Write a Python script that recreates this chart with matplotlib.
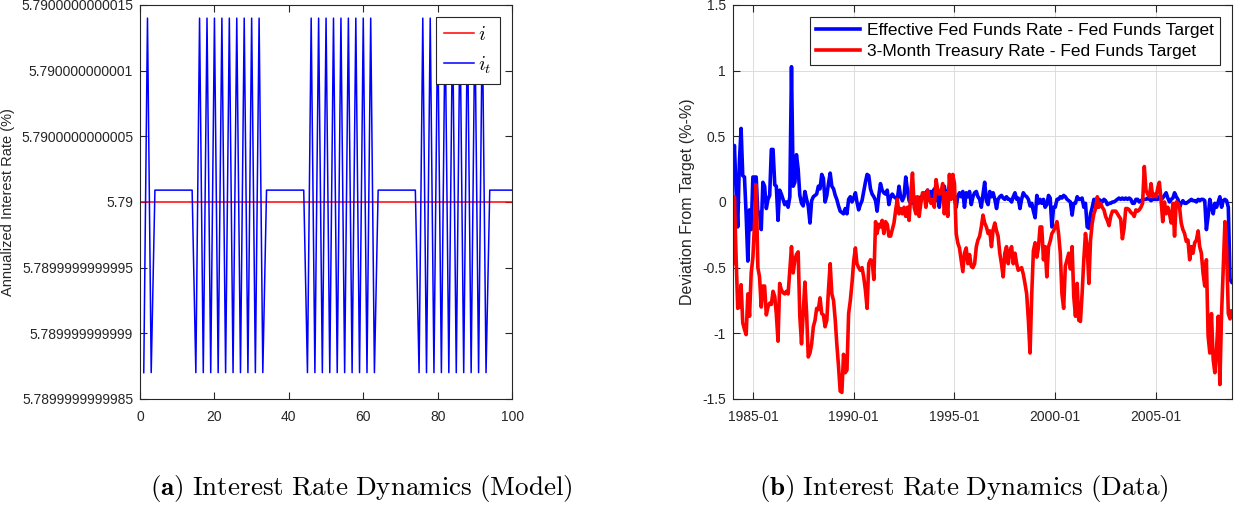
import matplotlib
matplotlib.use("Agg")
import matplotlib.pyplot as plt
import matplotlib.dates as mdates
import numpy as np
import pandas as pd

plt.rcParams["font.family"] = ["Liberation Sans", "DejaVu Sans"]
plt.rcParams["mathtext.fontset"] = "cm"
plt.rcParams["axes.unicode_minus"] = False

# ---- panel (a): model ----
i_ss = 5.79
i_x = [0, 100]
it_high = 5.7900000000014
it_mid = 5.79000000000009
it_low = 5.7899999999987
# one code per period t = 1..100 (L = low, H = high, M = middle)
it_codes = list(
    "LHLMMMMMMM"
    "MMMMLHLHLH"
    "LHLHLHLHLH"
    "LHLMMMMMMM"
    "MMMMLHLHLH"
    "LHLHLHLHLH"
    "LHLMMMMMMM"
    "MMMMLHLHLH"
    "LHLHLHLHLH"
    "LHLMMMMMMM"
)
a_yticklabels = ["5.7899999999985", "5.789999999999", "5.7899999999995", "5.79",
                 "5.7900000000005", "5.790000000001", "5.7900000000015"]
a_xticks = [0, 20, 40, 60, 80, 100]

# ---- panel (b): data, monthly from 1984-01 ----
start_month = "1984-01-01"
eff_minus_target = [
    0.19, 0.43, 0.10, -0.19, 0.30, 0.56, 0.20, 0.19, -0.10, -0.45, -0.06, -0.21,   # 1984
    0.19, 0.19, 0.19, -0.09, -0.08, -0.21, 0.15, 0.12, -0.05, 0.02, 0.05, 0.40,    # 1985
    0.40, 0.13, 0.12, -0.14, 0.09, 0.06, 0.02, -0.02, 0.00, -0.04, 0.04, 1.03,     # 1986
    0.12, 0.15, 0.36, 0.25, 0.05, -0.01, -0.03, 0.08, 0.02, -0.03, -0.16, 0.01,    # 1987
    0.04, 0.05, 0.06, 0.12, 0.10, 0.21, 0.18, 0.00, 0.05, 0.14, 0.22, 0.12,        # 1988
    0.10, 0.05, 0.02, -0.03, -0.07, -0.08, -0.09, -0.05, -0.09, 0.02, 0.04, 0.00,  # 1989
    0.03, 0.07, 0.00, -0.06, -0.02, 0.01, 0.08, 0.15, 0.21, 0.20, 0.10, 0.06,      # 1990
    0.04, 0.01, -0.07, 0.05, 0.14, 0.09, 0.07, 0.06, 0.09, -0.02, 0.04, 0.06,      # 1991
    0.04, 0.03, 0.02, 0.12, 0.04, 0.01, 0.04, 0.19, 0.09, 0.01, -0.01, -0.01,      # 1992
    0.04, 0.02, 0.01, -0.04, 0.04, 0.03, 0.06, 0.07, 0.09, 0.03, 0.08, 0.04,       # 1993
    0.10, 0.01, 0.09, -0.04, 0.07, 0.03, 0.12, 0.02, 0.07, 0.12, 0.04, 0.07,       # 1994
    0.03, -0.04, 0.04, 0.07, 0.04, 0.08, -0.04, 0.07, 0.04, 0.08, -0.02, 0.04,     # 1995
    0.07, 0.08, 0.04, 0.02, -0.04, 0.06, 0.15, 0.01, -0.02, 0.08, 0.04, 0.07,      # 1996
    0.02, -0.05, 0.02, 0.04, 0.05, 0.03, 0.02, 0.04, 0.02, 0.02, 0.00, 0.04,       # 1997
    0.07, 0.02, 0.03, -0.05, 0.02, 0.07, 0.05, 0.04, 0.02, -0.03, -0.01, -0.07,    # 1998
    -0.12, 0.05, -0.01, 0.02, -0.01, 0.02, -0.04, -0.02, 0.05, 0.03, -0.19, -0.04, # 1999
    -0.04, 0.02, 0.02, 0.04, 0.03, 0.05, 0.04, 0.02, 0.01, 0.00, -0.10, -0.01,     # 2000
    -0.01, 0.04, 0.02, 0.02, 0.03, -0.04, -0.01, -0.19, -0.20, -0.09, -0.04, 0.02, # 2001
    -0.01, -0.04, 0.02, 0.01, 0.00, 0.02, 0.01, -0.02, -0.01, -0.01, 0.00, 0.00,   # 2002
    0.01, 0.02, 0.03, 0.02, 0.03, 0.02, 0.03, 0.02, 0.03, 0.02, -0.01, -0.01,      # 2003
    0.02, 0.02, 0.00, 0.01, 0.02, 0.02, 0.02, 0.03, 0.02, 0.01, 0.02, 0.02,        # 2004
    0.02, 0.02, 0.04, 0.02, 0.03, 0.05, 0.07, 0.03, 0.00, 0.02, 0.03, 0.07,        # 2005
    0.04, 0.02, -0.04, -0.01, 0.01, -0.01, -0.01, 0.00, 0.01, 0.02, 0.01, 0.01,    # 2006
    0.00, 0.02, 0.01, 0.02, 0.02, 0.01, -0.21, -0.11, 0.02, -0.04, -0.09, -0.01,   # 2007
    -0.04, 0.00, 0.04, -0.04, 0.01, 0.02, 0.01, -0.04, -0.59, -0.61,               # 2008
]
tbill_minus_target = [
    -0.47, 0.04, -0.40, -0.81, -0.80, -0.63, -0.92, -0.97, -1.01, -0.70, -0.87, -0.54,  # 1984
    -0.42, -0.15, 0.13, -0.50, -0.57, -0.80, -0.64, -0.64, -0.86, -0.80, -0.77, -0.78,  # 1985
    -0.68, -0.72, -0.85, -1.06, -0.62, -0.67, -0.69, -0.70, -0.68, -0.70, -0.52, -0.34, # 1986
    -0.54, -0.44, -0.40, -0.38, -0.87, -1.08, -0.85, -0.61, -0.85, -1.18, -1.15, -1.08, # 1987
    -0.95, -0.90, -0.81, -0.82, -0.73, -0.85, -0.86, -0.95, -0.90, -0.67, -0.47, -0.70, # 1988
    -0.75, -0.90, -1.08, -1.25, -1.44, -1.45, -1.16, -1.30, -1.28, -0.85, -0.75, -0.62, # 1989
    -0.45, -0.35, -0.47, -0.50, -0.52, -0.50, -0.57, -0.67, -0.81, -0.47, -0.44, -0.45, # 1990
    -0.59, -0.15, -0.24, -0.17, -0.19, -0.14, -0.24, -0.15, -0.17, -0.26, -0.26, -0.21, # 1991
    -0.16, -0.06, 0.02, -0.09, -0.05, -0.09, -0.04, -0.11, -0.04, -0.14, 0.07, 0.22,    # 1992
    -0.04, -0.09, 0.04, -0.11, -0.01, 0.07, 0.07, -0.04, 0.09, 0.02, -0.01, 0.02,       # 1993
    -0.04, 0.17, 0.10, 0.06, 0.07, 0.14, -0.09, 0.07, -0.11, 0.21, 0.02, 0.21,          # 1994
    0.14, -0.24, -0.31, -0.35, -0.44, -0.53, -0.39, -0.35, -0.47, -0.40, -0.49, -0.50,  # 1995
    -0.47, -0.34, -0.29, -0.26, -0.19, -0.10, -0.16, -0.19, -0.24, -0.22, -0.34, -0.21, # 1996
    -0.16, -0.22, -0.26, -0.39, -0.47, -0.57, -0.39, -0.34, -0.47, -0.37, -0.34, -0.47, # 1997
    -0.39, -0.47, -0.52, -0.51, -0.50, -0.55, -0.62, -0.70, -0.90, -1.15, -0.70, -0.37, # 1998
    -0.31, -0.42, -0.35, -0.19, -0.19, -0.44, -0.34, -0.57, -0.34, -0.30, -0.24, -0.22, # 1999
    -0.19, -0.15, -0.24, -0.39, -0.70, -0.81, -0.49, -0.44, -0.39, -0.51, -0.34, -0.72, # 2000
    -0.87, -0.62, -0.90, -0.91, -0.70, -0.44, -0.24, -0.34, -0.62, -0.29, -0.16, -0.09, # 2001
    -0.05, 0.04, -0.04, -0.01, -0.04, -0.06, -0.11, -0.14, -0.18, -0.11, -0.07, -0.07,  # 2002
    -0.07, -0.09, -0.11, -0.13, -0.28, -0.20, -0.05, -0.05, -0.06, -0.08, -0.09, -0.11, # 2003
    -0.06, -0.07, -0.06, -0.04, -0.01, 0.27, 0.09, 0.06, 0.04, 0.14, 0.04, 0.06,        # 2004
    0.04, 0.11, 0.15, 0.01, -0.15, 0.00, -0.09, -0.04, -0.09, -0.16, -0.01, -0.26,      # 2005
    0.00, -0.01, -0.04, -0.16, -0.21, -0.24, -0.30, -0.29, -0.44, -0.34, -0.39, -0.31,  # 2006
    -0.29, -0.22, -0.34, -0.39, -0.54, -0.64, -0.44, -1.02, -1.15, -0.85, -1.20, -1.30, # 2007
    -1.12, -0.87, -1.39, -0.85, -0.50, -0.15, -0.34, -0.85, -0.89, -0.83,               # 2008
]
b_yticks = [-1.5, -1, -0.5, 0, 0.5, 1, 1.5]
b_ytick_labels = ["-1.5", "-1", "-0.5", "0", "0.5", "1", "1.5"]
b_labels = ["Effective Fed Funds Rate - Fed Funds Target",
            "3-Month Treasury Rate - Fed Funds Target"]

caption_a = r"$\mathbf{(a)}\ \mathrm{Interest\ Rate\ Dynamics\ (Model)}$"
caption_b = r"$\mathbf{(b)}\ \mathrm{Interest\ Rate\ Dynamics\ (Data)}$"

dark = "#262626"


def matlab_axes(ax):
    for s in ax.spines.values():
        s.set_color(dark)
        s.set_linewidth(0.8)
    ax.tick_params(direction="in", top=True, right=True, length=5, width=0.8,
                   color=dark, labelcolor=dark, labelsize=10)
    ax.tick_params(axis="y", pad=5)
    ax.tick_params(axis="x", pad=8)


fig = plt.figure(figsize=(12.36, 5.08), dpi=100)

# panel (a)
ax1 = fig.add_axes([0.1133, 0.2146, 0.301, 0.7756])
level = {"L": it_low, "M": it_mid, "H": it_high}
t = np.arange(1, len(it_codes) + 1)
it_vals = np.array([level[c] for c in it_codes])
ax1.plot(i_x, [i_ss, i_ss], color="red", lw=1.1, label="$i$")
ax1.plot(t, it_vals, color="blue", lw=1.1, label="$i_t$")
yt = [float(s) for s in a_yticklabels]
ax1.set_ylim(yt[0], yt[-1])
ax1.set_yticks(yt)
ax1.set_yticklabels(a_yticklabels)
ax1.set_xlim(0, 100)
ax1.set_xticks(a_xticks)
ax1.set_ylabel("Annualized Interest Rate (%)", fontsize=10.5, color=dark, labelpad=4)
matlab_axes(ax1)
leg1 = ax1.legend(loc="upper right", fontsize=14.5, handlelength=1.5, handletextpad=0.2,
                  borderpad=0.4, labelspacing=0.5, borderaxespad=0.6,
                  fancybox=False, framealpha=1)
leg1.get_frame().set_edgecolor(dark)
leg1.get_frame().set_linewidth(0.8)

# panel (b)
ax2 = fig.add_axes([0.5928, 0.2146, 0.4037, 0.7756])
dates = pd.date_range(start_month, periods=len(eff_minus_target), freq="MS")
ax2.plot(dates, eff_minus_target, color="blue", lw=2.6, label=b_labels[0])
ax2.plot(dates, tbill_minus_target, color="red", lw=2.6, label=b_labels[1])
ax2.set_xlim(dates[0], dates[-1])
ax2.set_ylim(-1.5, 1.5)
ax2.set_yticks(b_yticks)
ax2.set_yticklabels(b_ytick_labels)
ax2.xaxis.set_major_locator(mdates.YearLocator(5))
ax2.xaxis.set_major_formatter(mdates.DateFormatter("%Y-%m"))
ax2.grid(True, color="#dcdcdc", lw=0.7)
ax2.set_axisbelow(True)
ax2.set_ylabel("Deviation From Target (%-%)", fontsize=11.5, color=dark, labelpad=5)
matlab_axes(ax2)
leg2 = ax2.legend(loc="upper right", fontsize=12.5, handlelength=2.5, handletextpad=0.4,
                  borderpad=0.35, labelspacing=0.3, borderaxespad=0.7,
                  fancybox=False, framealpha=1)
leg2.get_frame().set_edgecolor(dark)
leg2.get_frame().set_linewidth(0.8)

fig.text(0.292, 0.039, caption_a, ha="center", va="center", fontsize=19.5)
fig.text(0.780, 0.039, caption_b, ha="center", va="center", fontsize=19.5)

fig.savefig("out.png", dpi=100)
